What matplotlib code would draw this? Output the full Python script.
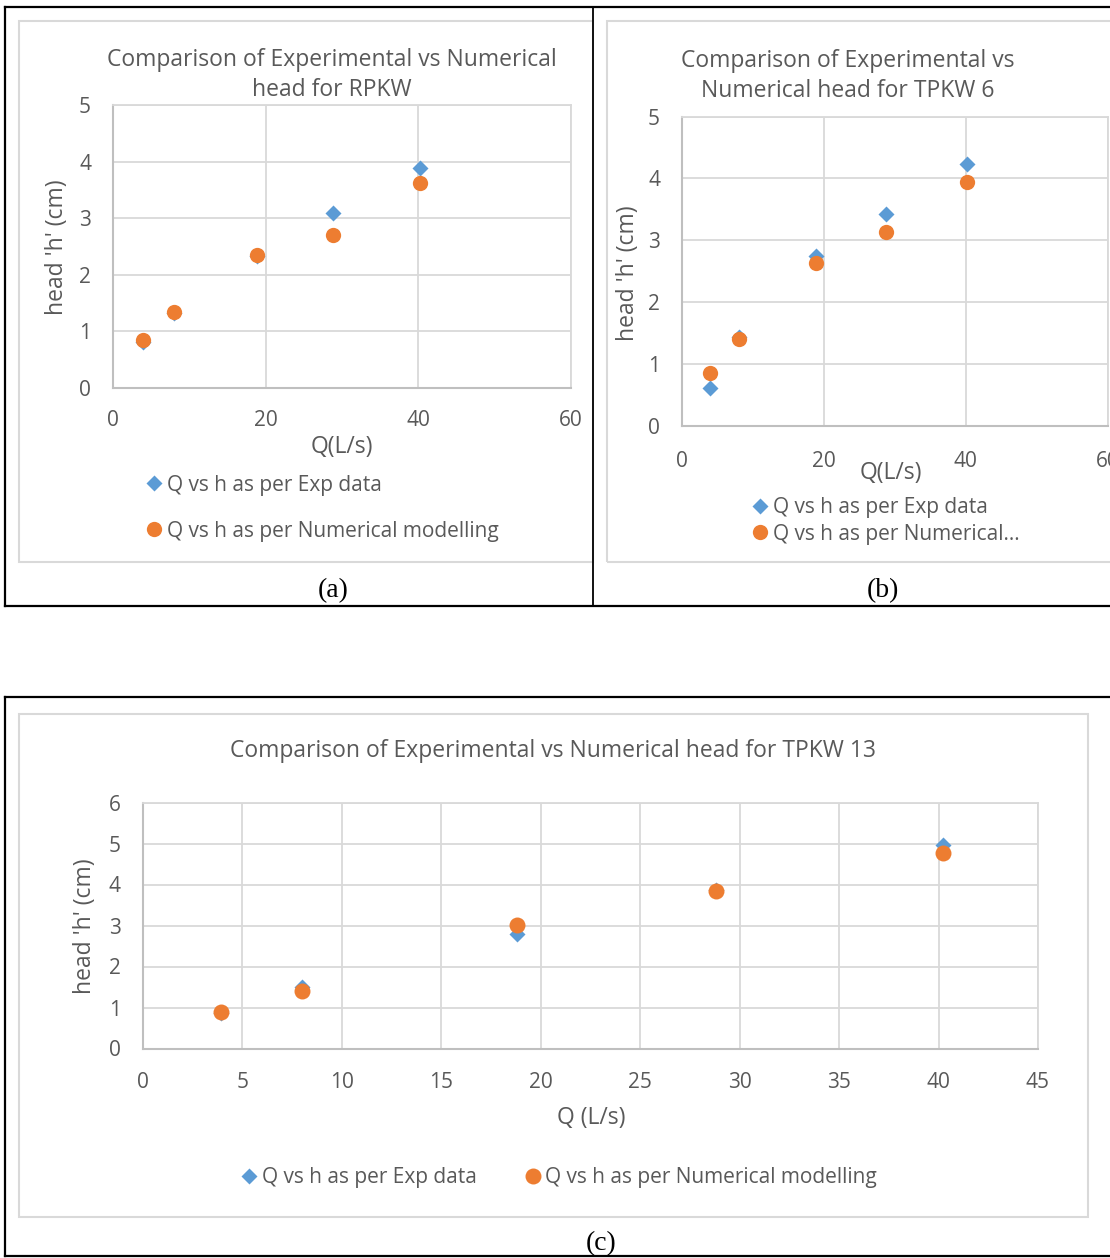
import matplotlib.pyplot as plt
from matplotlib.patches import Rectangle
from matplotlib.lines import Line2D

plt.rcParams['font.family'] = ['Open Sans', 'DejaVu Sans']

# ----- data -----
q_a = [3.9, 8.0, 18.8, 28.8, 40.2]
h_exp_a = [0.82, 1.33, 2.33, 3.10, 3.88]
h_num_a = [0.85, 1.35, 2.35, 2.70, 3.63]

q_b = [3.9, 8.0, 18.8, 28.8, 40.2]
h_exp_b = [0.61, 1.44, 2.74, 3.42, 4.23]
h_num_b = [0.85, 1.40, 2.64, 3.14, 3.95]

q_c = [3.92, 8.0, 18.8, 28.8, 40.2]
h_exp_c = [0.87, 1.49, 2.80, 3.87, 4.96]
h_num_c = [0.89, 1.41, 3.01, 3.84, 4.76]

label_exp = 'Q vs h as per Exp data'
label_num = 'Q vs h as per Numerical modelling'
label_num_short = 'Q vs h as per Numerical...'

BLUE = '#5B9BD5'
ORANGE = '#ED7D31'
TXT = '#595959'
GRID = '#d9d9d9'

W, H = 1110, 1258
fig = plt.figure(figsize=(W / 100, H / 100), dpi=100)


def fx(x):
    return x / W


def fy(y):
    return 1 - y / H


def rect(l, t, r, b):
    return [fx(l), fy(b), (r - l) / W, (b - t) / H]


def style(ax, xmax, xstep, ymax, xpad, ypad):
    ax.set_xlim(0, xmax)
    ax.set_ylim(0, ymax)
    ax.set_xticks(range(0, xmax + 1, xstep))
    ax.set_yticks(range(0, ymax + 1))
    ax.grid(True, color=GRID, lw=1.3)
    ax.set_axisbelow(True)
    for s in ['top', 'right']:
        ax.spines[s].set_color(GRID)
        ax.spines[s].set_linewidth(1.3)
    for s in ['left', 'bottom']:
        ax.spines[s].set_color('#bfbfbf')
        ax.spines[s].set_linewidth(1.5)
    ax.tick_params(length=0, labelsize=15, labelcolor=TXT)
    ax.tick_params(axis='x', pad=xpad)
    ax.tick_params(axis='y', pad=ypad)


def labels(ax, xl, xpos, yl, ypos):
    ax.set_xlabel(xl, fontsize=16.5, color=TXT, va='center')
    ax.xaxis.set_label_coords(fx(xpos[0]), fy(xpos[1]), transform=fig.transFigure)
    ax.set_ylabel(yl, fontsize=16.5, color=TXT, va='center')
    ax.yaxis.set_label_coords(fx(ypos[0]), fy(ypos[1]), transform=fig.transFigure)


def chart_box(l, t, r, b):
    fig.add_artist(Rectangle((fx(l), fy(b)), (r - l) / W, (b - t) / H,
                             transform=fig.transFigure, fill=False,
                             edgecolor=GRID, lw=1.5, zorder=0))


def black_line(x0, y0, x1, y1, lw=1.6):
    fig.add_artist(Line2D([fx(x0), fx(x1)], [fy(y0), fy(y1)],
                          transform=fig.transFigure, color='black', lw=lw, zorder=10))


# light chart-area frames
chart_box(19, 21, 593, 562)
chart_box(607, 21, 1120, 562)
chart_box(19, 714, 1088, 1217)

# ----- (a) -----
ax = fig.add_axes(rect(113.3, 105, 570.5, 388))
style(ax, 60, 20, 5, 16, 16)
ax.plot(q_a, h_exp_a, 'D', color=BLUE, ms=8, mec='none', label=label_exp)
ax.plot(q_a, h_num_a, 'o', color=ORANGE, ms=11, mec='none', label=label_num)
labels(ax, 'Q(L/s)', (342, 447), "head 'h' (cm)", (57, 247))
fig.text(fx(332), fy(75), 'Comparison of Experimental vs Numerical\nhead for RPKW',
         ha='center', va='center', fontsize=16.5, color=TXT, linespacing=1.32)
ax.legend(loc='center left', bbox_to_anchor=(fx(146), fy(508)),
          bbox_transform=fig.transFigure, frameon=False, fontsize=15,
          labelcolor=TXT, handlelength=0.8, handletextpad=0.2,
          labelspacing=1.2, borderpad=0, borderaxespad=0)

# ----- (b) -----
ax = fig.add_axes(rect(682.3, 116.7, 1107.7, 425.7))
style(ax, 60, 20, 5, 18, 16)
ax.plot(q_b, h_exp_b, 'D', color=BLUE, ms=8, mec='none', label=label_exp)
ax.plot(q_b, h_num_b, 'o', color=ORANGE, ms=11, mec='none', label=label_num_short)
labels(ax, 'Q(L/s)', (891, 473), "head 'h' (cm)", (628, 273))
fig.text(fx(848), fy(76), 'Comparison of Experimental vs\nNumerical head for TPKW 6',
         ha='center', va='center', fontsize=16.5, color=TXT, linespacing=1.32)
ax.legend(loc='center left', bbox_to_anchor=(fx(752), fy(521)),
          bbox_transform=fig.transFigure, frameon=False, fontsize=15,
          labelcolor=TXT, handlelength=0.8, handletextpad=0.2,
          labelspacing=0.25, borderpad=0, borderaxespad=0)

# ----- (c) -----
ax = fig.add_axes(rect(143, 802.5, 1038, 1048.5))
style(ax, 45, 5, 6, 17, 16)
ax.plot(q_c, h_exp_c, 'D', color=BLUE, ms=8, mec='none', label=label_exp)
ax.plot(q_c, h_num_c, 'o', color=ORANGE, ms=11.5, mec='none', label=label_num)
labels(ax, 'Q (L/s)', (591, 1118), "head 'h' (cm)", (85, 926))
fig.text(fx(553), fy(751), 'Comparison of Experimental vs Numerical head for TPKW 13',
         ha='center', va='center', fontsize=16.5, color=TXT)
ax.legend(loc='center left', bbox_to_anchor=(fx(241), fy(1178)),
          bbox_transform=fig.transFigure, frameon=False, fontsize=15, ncol=2,
          labelcolor=TXT, handlelength=0.8, handletextpad=0.2,
          columnspacing=2.3, borderpad=0, borderaxespad=0)

# captions
for x, y, s in [(333, 591, '(a)'), (883, 591, '(b)'), (601, 1244, '(c)')]:
    fig.text(fx(x), fy(y), s, ha='center', va='center', fontsize=20,
             family='Liberation Serif', color='black')

# black outer frames
black_line(5, 7, 1115, 7)
black_line(5, 606, 1115, 606)
black_line(5, 7, 5, 606)
black_line(593, 7, 593, 606, lw=1.3)
black_line(5, 697, 1115, 697)
black_line(5, 1256, 1115, 1256)
black_line(5, 697, 5, 1256)

plt.savefig('out.png', dpi=100)
